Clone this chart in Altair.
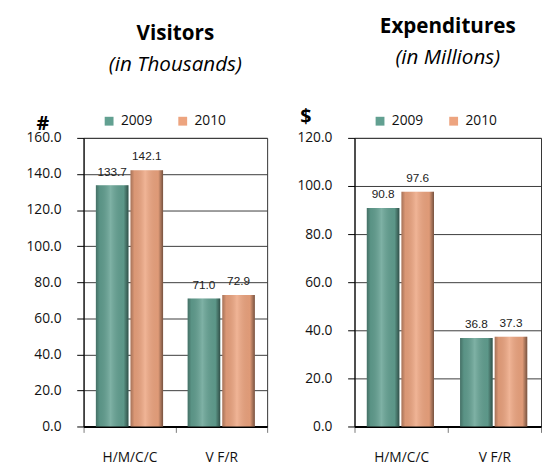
import altair as alt
import pandas as pd

categories = ["H/M/C/C", "V F/R"]
years = ["2009", "2010"]
visitors_2009 = [133.7, 71.0]
visitors_2010 = [142.1, 72.9]
expend_2009 = [90.8, 36.8]
expend_2010 = [97.6, 37.3]
visitor_ticks = [0, 20, 40, 60, 80, 100, 120, 140, 160]
expend_ticks = [0, 20, 40, 60, 80, 100, 120]

TEAL = "#62a091"
ORANGE = "#eda47f"
FONT = "Open Sans"


def make_df(v09, v10):
    rows = []
    for c, a, b in zip(categories, v09, v10):
        rows.append({"cat": c, "year": years[0], "value": a})
        rows.append({"cat": c, "year": years[1], "value": b})
    return pd.DataFrame(rows)


shade = {
    "gradient": "linear",
    "x1": 0, "y1": 0, "x2": 1, "y2": 0,
    "stops": [
        {"offset": 0.0, "color": "rgba(0,0,0,0.30)"},
        {"offset": 0.12, "color": "rgba(0,0,0,0.08)"},
        {"offset": 0.45, "color": "rgba(255,255,255,0.18)"},
        {"offset": 0.85, "color": "rgba(0,0,0,0.06)"},
        {"offset": 1.0, "color": "rgba(0,0,0,0.50)"},
    ],
}


def panel(df, title, subtitle, ytitle, ticks, width, tx, ty):
    ymax = ticks[-1]
    x = alt.X(
        "cat:N", sort=categories,
        scale=alt.Scale(paddingInner=0, paddingOuter=0),
        axis=alt.Axis(title=None, labelAngle=0, tickBand="extent", domainColor="black",
                      domainWidth=2, tickColor="#777", tickSize=6, labelPadding=19,
                      labelFont=FONT, labelFontSize=14, labelColor="#111"),
    )
    xo = alt.XOffset("year:N", sort=years,
                     scale=alt.Scale(paddingInner=0.06, paddingOuter=0.355))
    y = alt.Y(
        "value:Q",
        scale=alt.Scale(domain=[0, ymax], nice=False),
        axis=alt.Axis(title=ytitle, values=ticks, format=".1f", titleAngle=0,
                      titleX=tx, titleY=ty, titleAlign="center", titleBaseline="alphabetic",
                      titleFont=FONT, titleFontSize=20, titleFontWeight="bold", titleColor="black",
                      labelFont=FONT, labelFontSize=14, labelColor="#111", labelPadding=16,
                      tickSize=7, tickColor="black", domainColor="black",
                      grid=True, gridColor="#3a3a3a", gridWidth=1),
    )
    base = alt.Chart(df).encode(x=x, xOffset=xo, y=y)
    bars = base.mark_bar().encode(
        color=alt.Color(
            "year:N", sort=years,
            scale=alt.Scale(domain=years, range=[TEAL, ORANGE]),
            legend=alt.Legend(title=None, orient="none", legendX=19, legendY=-24,
                              direction="horizontal", symbolType="square", symbolSize=81,
                              symbolStrokeWidth=0, labelFont=FONT, labelFontSize=14,
                              labelColor="#111", labelOffset=5, columnPadding=23, padding=0),
        )
    )
    gloss = base.mark_bar(fill=shade)
    labels = base.mark_text(dy=-14, fontSize=12, font="Liberation Sans", color="#222").encode(
        text=alt.Text("value:Q", format=".1f")
    )
    return alt.layer(bars, gloss, labels).properties(
        width=width, height=294,
        title=alt.TitleParams(text=title, subtitle=subtitle, font=FONT, fontSize=21,
                              fontWeight="bold", color="black", subtitleFont=FONT,
                              subtitleFontSize=21, subtitleFontStyle="italic",
                              subtitleColor="black", anchor="middle", frame="group",
                              offset=39, subtitlePadding=11),
    )


left = panel(make_df(visitors_2009, visitors_2010), "Visitors", "(in Thousands)", "#",
             visitor_ticks, 187, -42, -9)
right = panel(make_df(expend_2009, expend_2010), "Expenditures", "(in Millions)", "$",
              expend_ticks, 190, -50, -16)

chart = (
    alt.hconcat(left, right, spacing=28)
    .resolve_scale(y="independent", color="independent")
    .resolve_legend(color="independent")
    .configure(padding={"left": 17, "top": 3, "right": 0, "bottom": 0})
    .configure_view(stroke="#333", strokeWidth=1)
)

chart.save("out.html", embed_options={"renderer": "svg", "actions": False})
